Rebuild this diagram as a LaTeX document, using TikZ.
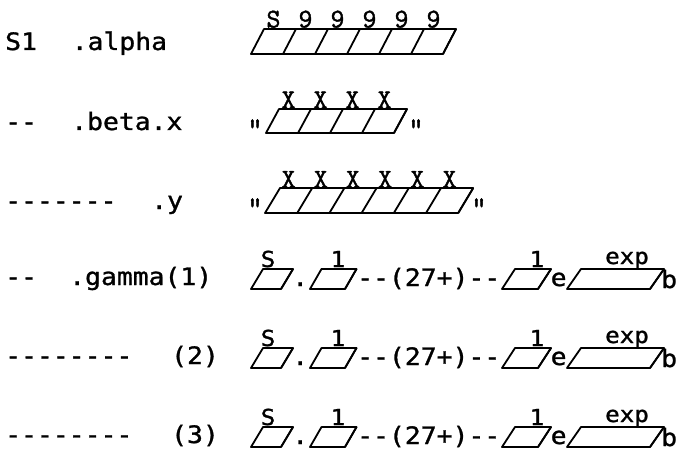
\documentclass[tikz,border=0pt]{standalone}
\usepackage{fontspec}
\newfontfamily\tw[FakeStretch=1.1,FakeBold=1.2]{DejaVu Sans Mono}
\newfontfamily\cour[FakeBold=1.5]{Latin Modern Mono}
\tikzset{
  boxline/.style={line width=1.8pt, line join=round},
  txt/.style={font=\tw\fontsize{24}{28}\selectfont, inner sep=0pt, anchor=base west},
  lab/.style={font=\cour\fontsize{27}{30}\selectfont, inner sep=0pt, anchor=base},
  slab/.style={font=\tw\fontsize{22}{28}\selectfont, inner sep=0pt, anchor=base},
  quo/.style={font=\cour\fontsize{30}{30}\selectfont, inner sep=0pt, anchor=base},
}
% #1 x of bottom-left, #2 y bottom, #3 height, #4 cell width, #5 cells, #6 slant
\newcommand\slrow[6]{%
  \draw[boxline] (#1,#2) -- ++({#4*#5},0) -- ++(#6,-#3) -- ++({-#4*#5},0) -- cycle;
  \foreach \k in {1,...,#5} \draw[boxline] ({#1+\k*#4},#2) -- ++(#6,-#3);
}
\begin{document}
\begin{tikzpicture}[x=1pt,y=-1pt]
\useasboundingbox[fill=white] (0,0) rectangle (679,457);

% ---- left column
\node[txt] (s1) at (5,50) {S1};
\node[txt] (alpha) at (71.5,50) {.alpha};
\node[txt] (d2) at (5,130) {--};
\node[txt] (beta) at (71,130) {.beta.x};
\node[txt] (d3) at (5,209) {-------};
\node[txt] (y) at (151,209) {.y};
\node[txt] (d4) at (5,285) {--};
\node[txt] (gamma) at (69,285) {.gamma(1)};
\node[txt] (d5) at (5,364) {--------};
\node[txt] (g2) at (171,364) {(2)};
\node[txt] (d6) at (5,443) {--------};
\node[txt] (g3) at (171,443) {(3)};

% ---- row 1
\slrow{251}{54}{25}{32}{6}{13}
\foreach \t [count=\i] in {S,9,9,9,9,9}
  \node[lab] (a\i) at ({251+(\i-0.5)*32+6.5},27.5) {\t};

% ---- row 2
\slrow{266}{133}{24}{32}{4}{13}
\foreach \t [count=\i] in {X,X,X,X}
  \node[lab] (b\i) at ({266+(\i-0.5)*32+6.5},108) {\t};
\node[quo] (bq1) at (255,138) {"};
\node[quo] (bq2) at (416,138) {"};

% ---- row 3
\slrow{265}{213}{25}{32.2}{6}{15}
\foreach \t [count=\i] in {X,X,X,X,X,X}
  \node[lab] (c\i) at ({265+(\i-0.5)*32.2+7.5},187.5) {\t};
\node[quo] (cq1) at (255,217) {"};
\node[quo] (cq2) at (479,217) {"};

% ---- rows 4-6
\foreach \b [count=\r] in {289,368,447}{
  \slrow{251}{\b}{20}{30}{1}{12}
  \slrow{310}{\b}{20}{35}{1}{11.5}
  \slrow{502}{\b}{20}{36}{1}{13}
  \slrow{567}{\b}{20}{83}{1}{14}
  \node[txt] (dot\r) at (292,\b-3) {.};
  \node[txt] (mid\r) at (357,\b-3) {--(27+)--};
  \node[txt] (e\r) at (550.5,\b-3) {e};
  \node[txt] (bb\r) at (661,\b-1) {b};
  \node[slab] (ls\r) at (268,\b-22) {S};
  \node[slab] (l1\r) at (338,\b-22) {1};
  \node[slab] (l2\r) at (537,\b-22) {1};
  \node[slab] (ex\r) at (627,\b-25) {exp};
}
\end{tikzpicture}
\end{document}
